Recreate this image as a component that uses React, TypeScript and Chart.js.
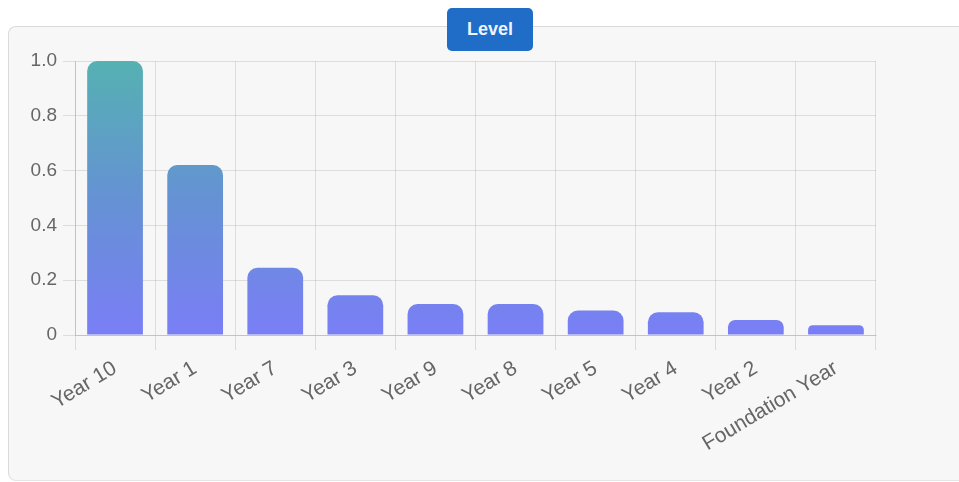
import React, { useEffect, useRef } from "react";
import { Chart, registerables } from "chart.js";

Chart.register(...registerables);

const categories = [
  "Year 10",
  "Year 1",
  "Year 7",
  "Year 3",
  "Year 9",
  "Year 8",
  "Year 5",
  "Year 4",
  "Year 2",
  "Foundation Year",
];

const levelValues = [1.0, 0.62, 0.245, 0.145, 0.113, 0.113, 0.089, 0.083, 0.055, 0.036];

const yTickValues = [0, 0.2, 0.4, 0.6, 0.8, 1.0];

const FONT = "'Liberation Sans', Arial, Helvetica, sans-serif";

export default function App() {
  const canvasRef = useRef<HTMLCanvasElement | null>(null);

  useEffect(() => {
    const canvas = canvasRef.current;
    if (!canvas) return;

    const chart = new Chart(canvas, {
      type: "bar",
      data: {
        labels: categories,
        datasets: [
          {
            label: "Level",
            data: levelValues,
            backgroundColor: (ctx: any) => {
              const area = ctx.chart.chartArea;
              if (!area) return "#6f88e8";
              const g = ctx.chart.ctx.createLinearGradient(0, area.top, 0, area.bottom);
              g.addColorStop(0, "#55b1b2");
              g.addColorStop(0.5, "#6592d4");
              g.addColorStop(1, "#7a7ef6");
              return g;
            },
            borderWidth: 0,
            borderRadius: 10,
            borderSkipped: "bottom",
            barPercentage: 0.87,
            categoryPercentage: 0.8,
          },
        ],
      },
      options: {
        responsive: false,
        maintainAspectRatio: false,
        animation: false,
        layout: { padding: { top: 35, right: 83, left: 0, bottom: 0 } },
        plugins: {
          legend: { display: false },
          tooltip: { enabled: false },
        },
        scales: {
          x: {
            afterFit: (scale: any) => {
              scale.height = 146;
            },
            grid: {
              color: "rgba(0,0,0,0.1)",
              tickLength: 15,
              offset: true,
            },
            border: { color: "rgba(0,0,0,0.12)" },
            ticks: {
              color: "#666",
              font: { family: FONT, size: 21 },
              minRotation: 31,
              maxRotation: 31,
              autoSkip: false,
              padding: 6,
            },
          },
          y: {
            min: 0,
            max: 1,
            afterFit: (scale: any) => {
              scale.width = 67;
            },
            afterBuildTicks: (scale: any) => {
              scale.ticks = yTickValues.map((v) => ({ value: v }));
            },
            grid: {
              color: "rgba(0,0,0,0.1)",
              tickLength: 12,
            },
            border: { color: "rgba(0,0,0,0.12)" },
            ticks: {
              color: "#666",
              font: { family: FONT, size: 19 },
              padding: 6,
              callback: (v: any) => (Number(v) === 0 ? "0" : Number(v).toFixed(1)),
            },
          },
        },
      },
    });

    return () => chart.destroy();
  }, []);

  return (
    <div
      style={{
        position: "fixed",
        left: 0,
        top: 0,
        width: 959,
        height: 482,
        overflow: "hidden",
        background: "#ffffff",
      }}
    >
      <div
        style={{
          position: "absolute",
          left: 8,
          top: 26,
          width: 962,
          height: 455,
          border: "1px solid #dadada",
          borderBottomColor: "#e4e4e4",
          borderRadius: 8,
          background: "#f7f7f7",
          boxSizing: "border-box",
        }}
      />
      <canvas
        ref={canvasRef}
        width={951}
        height={455}
        style={{ position: "absolute", left: 8, top: 26, width: 951, height: 455 }}
      />
      <div
        style={{
          position: "absolute",
          left: 447,
          top: 8,
          width: 86,
          height: 43,
          background: "#1f6dc6",
          borderRadius: 5,
          color: "#eef3ff",
          fontFamily: FONT,
          fontSize: 18,
          fontWeight: 600,
          display: "flex",
          alignItems: "center",
          justifyContent: "center",
        }}
      >
        Level
      </div>
    </div>
  );
}
